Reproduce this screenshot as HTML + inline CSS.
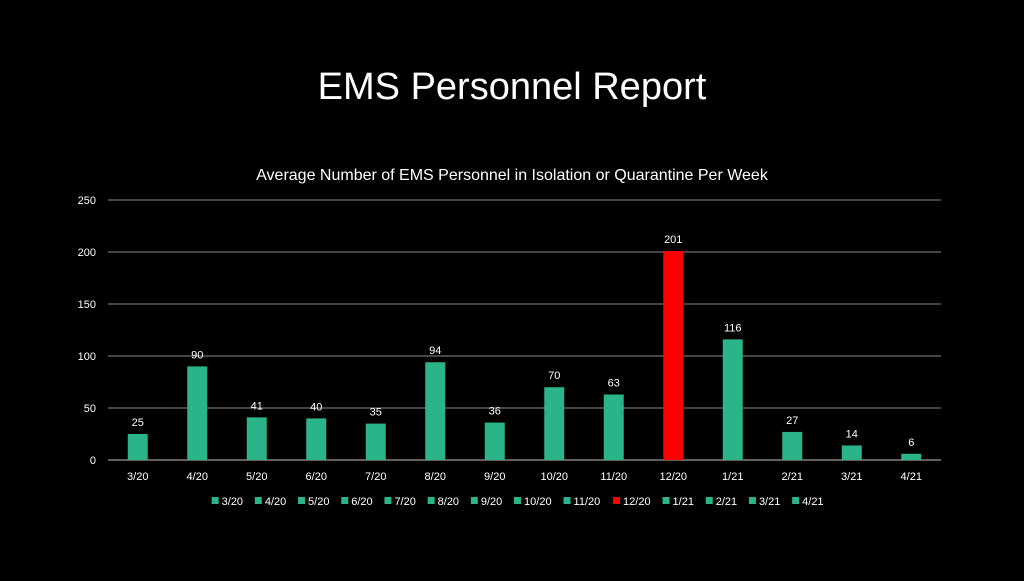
<!DOCTYPE html>
<html><head><meta charset="utf-8"><style>
body{margin:0;background:#000;width:1024px;height:576px;overflow:hidden;font-family:"Liberation Sans",sans-serif;}
</style></head><body>
<svg width="1024" height="576" xmlns="http://www.w3.org/2000/svg" id="svg">
<rect width="1024" height="576" fill="#000"/>
<text x="512" y="99" fill="#fff" font-size="38" text-anchor="middle" font-family="Liberation Sans, sans-serif">EMS Personnel Report</text>
<text x="512" y="180" fill="#fff" font-size="16" text-anchor="middle">Average Number of EMS Personnel in Isolation or Quarantine Per Week</text>
<g id="grid"></g><g id="bars"></g><g id="legend"></g>
</svg>
<script>
const categories=["3/20","4/20","5/20","6/20","7/20","8/20","9/20","10/20","11/20","12/20","1/21","2/21","3/21","4/21"];
const values=[25,90,41,40,35,94,36,70,63,201,116,27,14,6];
const colors=["#2bb38a","#2bb38a","#2bb38a","#2bb38a","#2bb38a","#2bb38a","#2bb38a","#2bb38a","#2bb38a","#ff0000","#2bb38a","#2bb38a","#2bb38a","#2bb38a"];
const ticks=[0,50,100,150,200,250];
const NS="http://www.w3.org/2000/svg";
const x0=108,x1=941,yTop=200,yBot=460,maxV=250;
const y=v=>yBot-(v/maxV)*(yBot-yTop);
const band=(x1-x0)/categories.length;
const xc=i=>x0+band*(i+0.5);
function mk(t,a,p){const e=document.createElementNS(NS,t);for(const k in a)e.setAttribute(k,a[k]);p.appendChild(e);return e;}
const grid=document.getElementById('grid'),bars=document.getElementById('bars'),leg=document.getElementById('legend');
ticks.forEach(t=>{
 const l=mk('line',{x1:x0,x2:x1,y1:y(t),y2:y(t),stroke:t===0?'#bfbfbf':'#8a8a8a','stroke-width':1},grid);
 
 
 const tx=mk('text',{x:96,y:y(t)+4,fill:'#fff','font-size':11,'text-anchor':'end'},grid);tx.textContent=t;
 
 
});
categories.forEach((c,i)=>{
 const w=20;
 const r=mk('rect',{x:xc(i)-w/2,y:y(values[i]),width:w,height:yBot-y(values[i]),fill:colors[i]},bars);
 
 
 const v=mk('text',{x:xc(i),y:y(values[i])-8,fill:'#fff','font-size':11,'text-anchor':'middle'},bars);v.textContent=values[i];
 
 
 const xl=mk('text',{x:xc(i),y:480,fill:'#fff','font-size':11,'text-anchor':'middle'},bars);xl.textContent=c;
 
 
});
// legend
let lx=190;
const widths=categories.map(c=>c.length*6.3);
const total=widths.reduce((a,b)=>a+b,0)+categories.length*(9+9)-9;
lx=512-total/2+7;
categories.forEach((c,i)=>{
 const g=mk('g',{},leg);
 
 
 mk('rect',{x:lx,y:497,width:7,height:7,fill:colors[i]},g);
 const t=mk('text',{x:lx+10,y:505,fill:'#fff','font-size':11},g);t.textContent=c;
 lx+=10+widths[i]+8;
});
</script>
</body></html>
